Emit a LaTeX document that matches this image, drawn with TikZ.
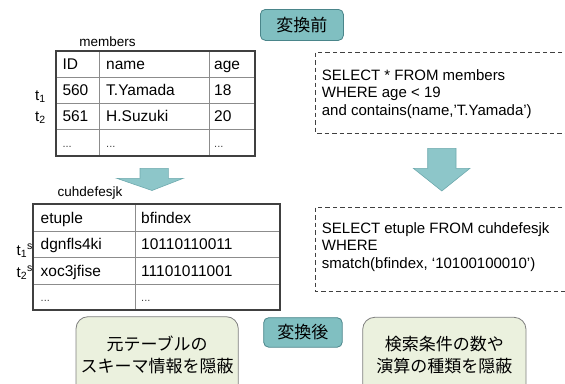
\documentclass[tikz,border=0pt]{standalone}
\usepackage{fontspec}
\setmainfont{Liberation Sans}
\newfontfamily\jpfont{Noto Sans CJK JP}
\definecolor{tealfill}{HTML}{80BFC1}
\definecolor{tealedge}{HTML}{4A858A}
\definecolor{arrowfill}{HTML}{8DC6C9}
\definecolor{arrowedge}{HTML}{6FAAAE}
\definecolor{greenfill}{HTML}{EBF1DE}
\definecolor{greenedge}{HTML}{808080}
\definecolor{outerline}{HTML}{404040}
\definecolor{innerline}{HTML}{8C8C8C}
\begin{document}
\begin{tikzpicture}[x=1pt,y=-1pt,
  tagbox/.style={draw=tealedge,fill=tealfill,rounded corners=5pt,line width=0.8pt,inner sep=0pt,
     font=\jpfont\fontsize{17}{20}\selectfont},
  notebox/.style={draw=greenedge,fill=greenfill,rounded corners=12pt,line width=0.8pt},
  notetext/.style={font=\jpfont\fontsize{17}{22}\selectfont,align=center,inner sep=0pt},
  cell/.style={font=\fontsize{15.5}{18}\selectfont,anchor=base west,inner sep=0pt},
  dots/.style={font=\fontsize{11}{13}\selectfont,text=black!75,anchor=base west,inner sep=0pt},
  tabname/.style={font=\fontsize{13.5}{16}\selectfont,inner sep=0pt},
  rowtag/.style={font=\fontsize{15}{18}\selectfont,anchor=base west,inner sep=0pt},
  outer/.style={draw=outerline,line width=1.8pt},
  inner/.style={draw=innerline,line width=0.9pt},
  query/.style={draw=outerline,line width=0.9pt,dash pattern=on 4.5pt off 3pt},
  qtext/.style={font=\fontsize{15}{17.5}\selectfont,align=left,anchor=base west,inner sep=0pt},
  bigarrow/.style={fill=arrowfill,draw=arrowedge,line width=0.6pt}
]
\useasboundingbox (0,0) rectangle (565,383);

% top tag
\node[tagbox,minimum width=83pt,minimum height=31pt,anchor=north west] (before) at (260,9) {変換前};

% members table
\node[tabname] (mname) at (107.5,42) {members};
\coordinate (m1) at (55.7,50.7);
\coordinate (m2) at (255,155.7);
\draw[inner] (99.3,50.7) -- (99.3,155.7) (209,50.7) -- (209,155.7)
  (55.7,77.3) -- (255,77.3) (55.7,103.3) -- (255,103.3) (55.7,129.3) -- (255,129.3);
\draw[outer] (m1) rectangle (m2);
\node[cell] (mh1) at (62.3,69.5) {ID};
\node[cell] (mh2) at (106,69.5) {name};
\node[cell] (mh3) at (214,69.5) {age};
\node[cell] (ma1) at (62.3,95.8) {560};
\node[cell] (ma2) at (106,95.8) {T.Yamada};
\node[cell] (ma3) at (214,95.8) {18};
\node[cell] (mb1) at (62.3,121.8) {561};
\node[cell] (mb2) at (106,121.8) {H.Suzuki};
\node[cell] (mb3) at (214,121.8) {20};
\node[dots] (mc1) at (62.3,147.5) {...};
\node[dots] (mc2) at (106,147.5) {...};
\node[dots] (mc3) at (214,147.5) {...};
\node[rowtag] (t1) at (35,100) {t\textsubscript{1}};
\node[rowtag] (t2) at (35,121) {t\textsubscript{2}};

% left arrow
\draw[bigarrow] (140,168.3) -- (168.3,168.3) -- (168.3,178.3) -- (183.3,178.3) -- (152,190.5)
  -- (116.7,178.3) -- (140,178.3) -- cycle;

% cuhdefesjk table
\node[tabname] (cname) at (90,193.5) {cuhdefesjk};
\coordinate (c1) at (33.3,204.3);
\coordinate (c2) at (280,310);
\draw[inner] (135,204.3) -- (135,310)
  (33.3,231) -- (280,231) (33.3,257.7) -- (280,257.7) (33.3,284) -- (280,284);
\draw[outer] (c1) rectangle (c2);
\node[cell] (ch1) at (40.5,223.2) {etuple};
\node[cell] (ch2) at (141,223.2) {bfindex};
\node[cell] (ca1) at (40.5,249.8) {dgnfls4ki};
\node[cell] (ca2) at (141,249.8) {10110110011};
\node[cell] (cb1) at (40.5,276.5) {xoc3jfise};
\node[cell] (cb2) at (141,276.5) {11101011001};
\node[dots] (cc1) at (40.5,301.5) {...};
\node[dots] (cc2) at (141,301.5) {...};
\node[rowtag] (s1) at (16.5,255) {t\textsubscript{1}\textsuperscript{s}};
\node[rowtag] (s2) at (16.5,277) {t\textsubscript{2}\textsuperscript{s}};

% query boxes
\draw[query] (315,52.7) rectangle (572,133);
\node[qtext] (q1) at (321.7,115) {SELECT * FROM members\\WHERE age < 19\\and contains(name,'T.Yamada')};
\draw[bigarrow] (427.7,148.3) -- (456,148.3) -- (456,168.3) -- (470,168.3) -- (441.8,191)
  -- (413.3,168.3) -- (427.7,168.3) -- cycle;
\draw[query] (315,207.7) rectangle (572,291.7);
\node[qtext] (q2) at (321.7,268.3) {SELECT etuple FROM cuhdefesjk\\WHERE\\smatch(bfindex, `10100100010')};

% bottom tag
\node[tagbox,minimum width=78.5pt,minimum height=29.5pt,anchor=north west] (after) at (263.3,317.3) {変換後};

% notes
\draw[notebox] (76,316.7) rectangle (238.3,400);
\node[notetext] (n1) at (157.2,354.5) {元テーブルの\\スキーマ情報を隠蔽};
\draw[notebox] (362.7,317.3) rectangle (526,400);
\node[notetext] (n2) at (444.4,355) {検索条件の数や\\演算の種類を隠蔽};
\end{tikzpicture}
\end{document}
